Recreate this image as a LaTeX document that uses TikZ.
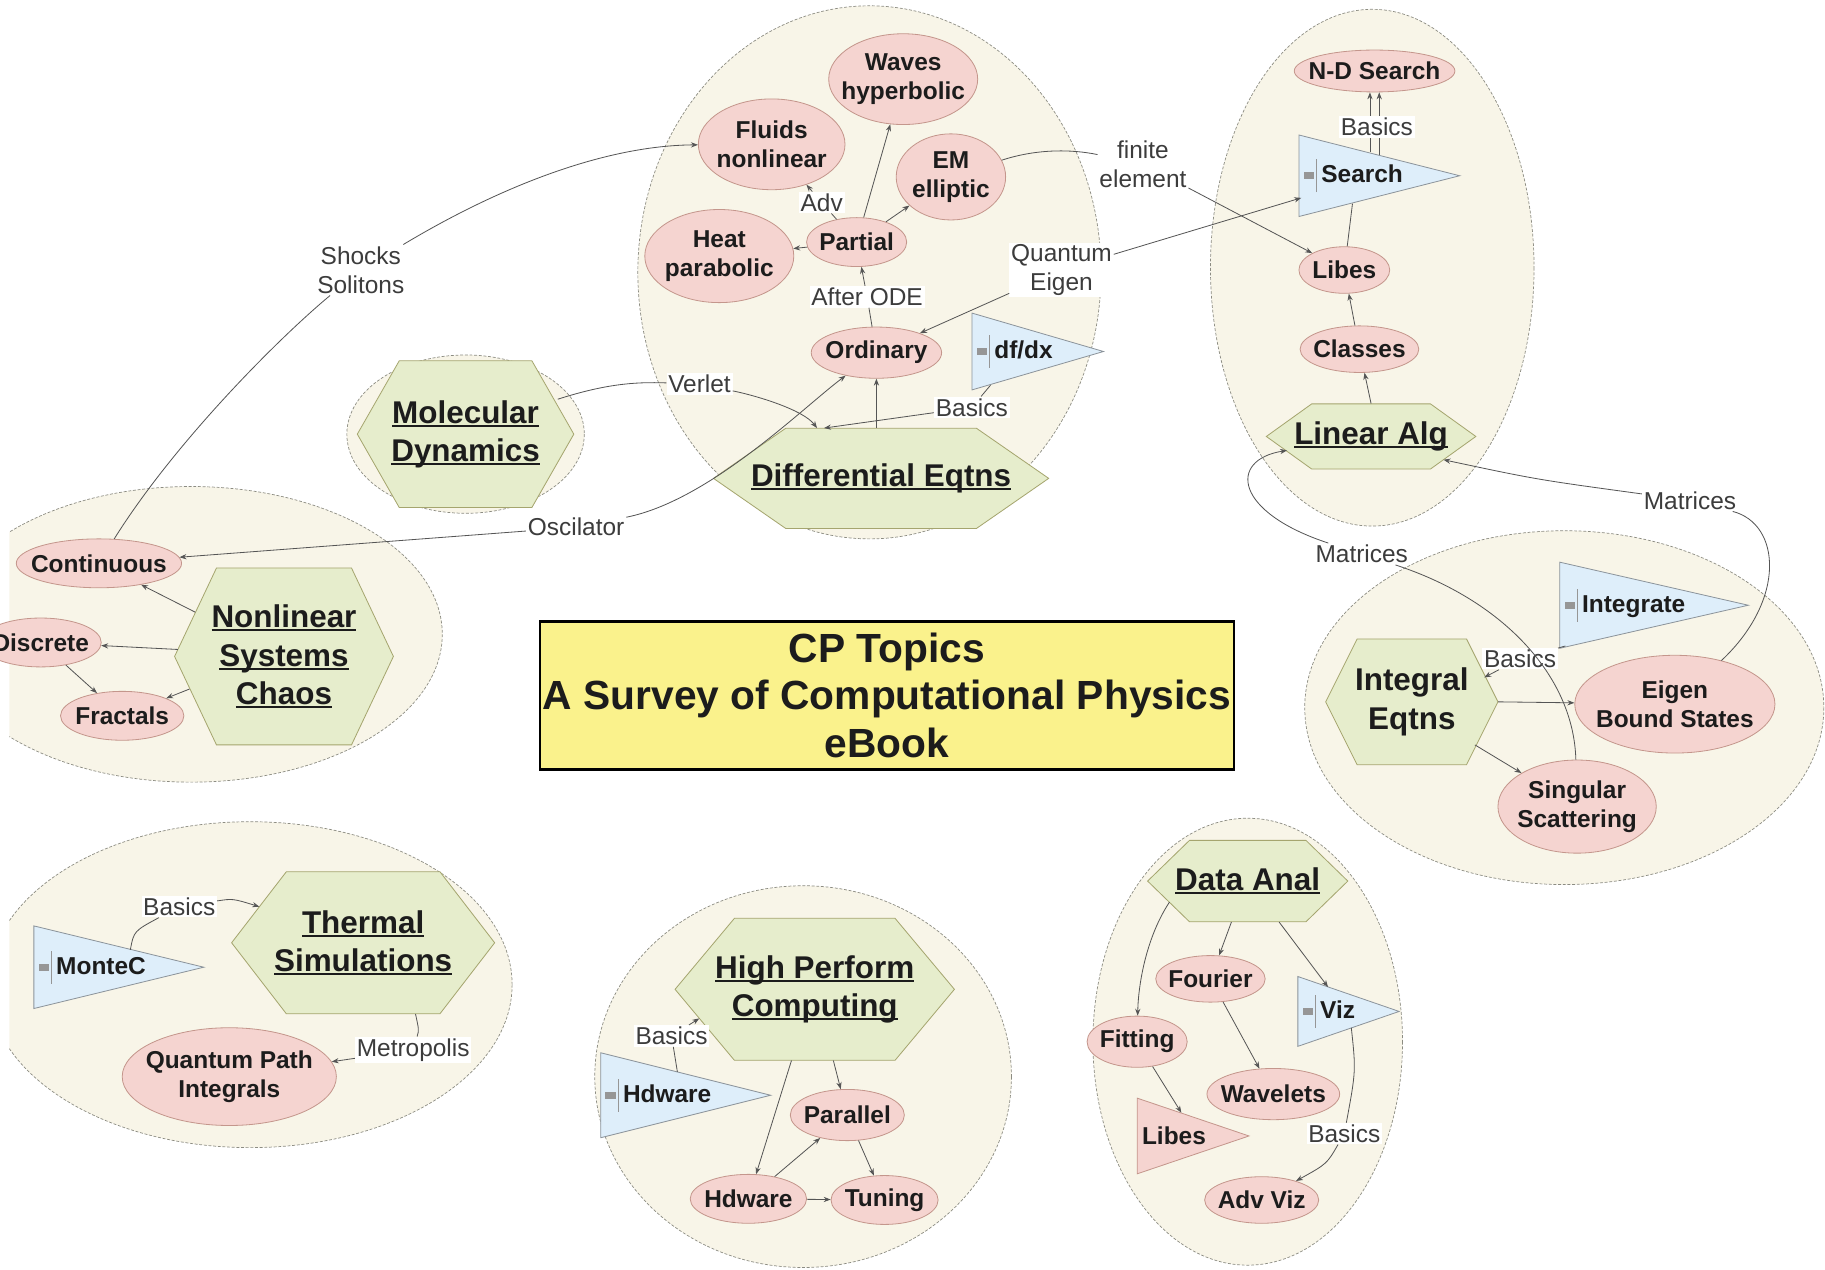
\documentclass[tikz,border=0pt]{standalone}
\usepackage{fontspec}
\setmainfont{Liberation Sans}
\usetikzlibrary{shapes.geometric,arrows.meta,calc}

\definecolor{cream}{RGB}{248,245,232}
\definecolor{clusterline}{RGB}{140,140,130}
\definecolor{pinkfill}{RGB}{245,212,208}
\definecolor{pinkline}{RGB}{196,150,140}
\definecolor{greenfill}{RGB}{230,237,204}
\definecolor{greenline}{RGB}{165,165,110}
\definecolor{bluefill}{RGB}{222,238,250}
\definecolor{blueline}{RGB}{140,148,155}
\definecolor{titlefill}{RGB}{250,242,140}
\definecolor{edgecol}{RGB}{85,85,85}
\definecolor{lbltext}{RGB}{60,60,60}
\definecolor{boldtext}{RGB}{28,28,28}
\definecolor{icongray}{RGB}{150,150,150}

\newcommand\ulx[1]{\sbox0{#1}\rlap{\rule[-3pt]{\wd0}{1.5pt}}\usebox0}
\newcommand\tmicon{{\color{icongray}\rule[3pt]{9pt}{6pt}\hspace{1.5pt}\rule[-8pt]{0.6pt}{28pt}}\hspace{4pt}}

\tikzset{
 cluster/.style={fill=cream, draw=clusterline, line width=0.6pt, dash pattern=on 2.5pt off 1.5pt},
 topic/.style={ellipse, fill=pinkfill, draw=pinkline, line width=0.7pt, inner sep=0pt},
 topictext/.style={inner sep=0pt, align=center, text=boldtext, font=\fontsize{21}{25}\selectfont\bfseries},
 hexshape/.style={fill=greenfill, draw=greenline, line width=0.7pt},
 hextext/.style={inner sep=0pt, align=center, text=boldtext, font=\fontsize{27}{33}\selectfont\bfseries},
 tri/.style={isosceles triangle, isosceles triangle stretches, inner sep=0pt, line width=0.7pt},
 bluetri/.style={fill=bluefill, draw=blueline},
 pinktri/.style={fill=pinkfill, draw=pinkline},
 tritext/.style={inner sep=0pt, text=boldtext, font=\fontsize{21}{25}\selectfont\bfseries},
 lbl/.style={fill=white, inner sep=1.5pt, align=center, text=lbltext, font=\fontsize{21}{25}\selectfont},
 link/.style={draw=edgecol, line width=0.7pt},
 arr/.style={link, -{Stealth[length=6pt,width=4.5pt]}},
 titlebox/.style={rectangle, fill=titlefill, draw=black, line width=2pt, align=center, font=\fontsize{35}{41}\selectfont\bfseries, text=boldtext, inner sep=0pt}
}

% name, x, y, rx, ry, text
\newcommand\topic[6]{%
  \node[topic, minimum width={2*#4}, minimum height={2*#5}] (#1) at (#2,#3) {};
  \node[topictext] (#1-t) at (#1.center) {#6};}
% name, x, y, half width, half height, inset, text
\newcommand\hexa[7]{%
  \path[hexshape] ({#2-#4},#3) -- ({#2-#4+#6},{#3-#5}) -- ({#2+#4-#6},{#3-#5}) -- ({#2+#4},#3) -- ({#2+#4-#6},{#3+#5}) -- ({#2-#4+#6},{#3+#5}) -- cycle;
  \node[inner sep=0pt, minimum width={2*#4}, minimum height={2*#5}] (#1) at (#2,#3) {};
  \node[hextext] (#1-t) at (#1.center) {#7};}
% name, apex x, apex y, horizontal length, base length, colour style, text
\newcommand\tri[7]{%
  \node[tri, #6, minimum height={#4}, minimum width={#5}, anchor=apex] (#1) at (#2,#3) {};
  \node[tritext, anchor=west] (#1-t) at ({#2-#4+3},#3) {#7};}

\begin{document}
\begin{tikzpicture}[x=1pt,y=-1pt]
\useasboundingbox (0,0) rectangle (1568,1091);
\fill[white] (0,0) rectangle (1568,1091);

% cluster backgrounds
\draw[cluster] (747,234) ellipse [x radius=199, y radius=229];
\draw[cluster] (400,373) ellipse [x radius=102, y radius=68];
\draw[cluster] (1179,230) ellipse [x radius=139, y radius=222];
\draw[cluster] (1344,608) ellipse [x radius=223, y radius=152];
\draw[cluster] (690,925) ellipse [x radius=179, y radius=164];
\draw[cluster] (1072,895) ellipse [x radius=133, y radius=192];
\begin{scope}
\clip (8,0) rectangle (1568,1091);
\draw[cluster] (164,545) ellipse [x radius=216, y radius=127];
\draw[cluster] (215,846) ellipse [x radius=225, y radius=140];
\end{scope}

% title
\node[titlebox, minimum width=596pt, minimum height=127pt] (title) at (762,597.5) {CP Topics\\A Survey of Computational Physics\\eBook};

% Differential equations
\topic{waves}{776}{68}{64}{39}{Waves\\hyperbolic}
\topic{fluids}{663}{124}{63}{39}{Fluids\\nonlinear}
\topic{em}{817}{152}{47}{37}{EM\\elliptic}
\topic{heat}{618}{220}{64}{40}{Heat\\parabolic}
\topic{partial}{736}{208}{43}{21}{Partial}
\topic{ordinary}{753}{303}{56}{22}{Ordinary}
\tri{dfdx}{949}{302}{113}{66}{bluetri}{\tmicon df/dx}
\hexa{de}{757}{411}{144}{43}{62}{\ulx{Differential Eqtns}}

% Molecular dynamics
\hexa{md}{400}{373}{93}{63}{36}{\ulx{Molecular}\\\ulx{Dynamics}}

% Nonlinear
\topic{continuous}{85}{484}{71}{21}{Continuous}
\topic{discrete}{35}{552}{52}{21}{Discrete}
\topic{fractals}{105}{615}{53}{21}{Fractals}
\hexa{nl}{244}{564}{94}{76}{36}{\ulx{Nonlinear}\\\ulx{Systems}\\\ulx{Chaos}}

% Linear algebra
\topic{ndsearch}{1181}{61}{69}{18}{N-D Search}
\tri{search}{1255}{151}{138}{70}{bluetri}{\tmicon Search}
\topic{libes}{1155}{232}{39}{20}{Libes}
\topic{classes}{1168}{300}{51}{20}{Classes}
\hexa{la}{1178}{375}{90}{28}{39}{\ulx{Linear Alg}}

% Integral equations
\tri{integrate}{1503}{520}{162}{74}{bluetri}{\tmicon Integrate}
\hexa{ie}{1213}{603}{74}{54}{27}{Integral\\Eqtns}
\topic{eigen}{1439}{605}{86}{42}{Eigen\\Bound States}
\topic{singular}{1355}{693}{68}{40}{Singular\\Scattering}

% Thermal
\tri{montec}{176}{831}{146}{71}{bluetri}{\tmicon MonteC}
\hexa{th}{312}{810}{113}{61}{47}{\ulx{Thermal}\\\ulx{Simulations}}
\topic{qpath}{197}{925}{92}{42}{Quantum Path\\Integrals}

% High performance computing
\hexa{hpc}{700}{850}{120}{61}{51}{\ulx{High Perform}\\\ulx{Computing}}
\tri{hdtri}{663}{941}{146}{73}{bluetri}{\tmicon Hdware}
\topic{parallel}{728}{958}{49}{22}{Parallel}
\topic{hdware}{643}{1030}{50}{21}{Hdware}
\topic{tuning}{760}{1031}{46}{21}{Tuning}

% Data analysis
\hexa{da}{1072}{757}{86}{35}{36}{\ulx{Data Anal}}
\topic{fourier}{1040}{841}{47}{20}{Fourier}
\tri{viz}{1203}{869}{87}{60}{bluetri}{\tmicon Viz}
\topic{fitting}{977}{895}{43}{22}{Fitting}
\topic{wavelets}{1094}{940}{57}{22}{Wavelets}
\tri{libestri}{1074}{976}{96}{65}{pinktri}{Libes}
\topic{advviz}{1084}{1031}{49}{20}{Adv Viz}

% arrows hidden behind a label
\draw[arr] ($(search.apex)+(-78,-20)$) -- ($(ndsearch.south)+(-4,0)$);
\draw[arr] ($(search.apex)+(-70,-18)$) -- ($(ndsearch.south)+(4,0)$);

% labels
\node[lbl] (shocks) at (310,232) {Shocks\\Solitons};
\node[lbl] (oscilator) at (495,453) {Oscilator};
\node[lbl] (verlet) at (601,330) {Verlet};
\node[lbl] (adv) at (706,174) {Adv};
\node[lbl] (afterode) at (745,255) {After ODE};
\node[lbl] (qeigen) at (912,232) {Quantum\\Eigen};
\node[lbl] (basicsde) at (835,350) {Basics};
\node[lbl] (finite) at (982,141) {finite\\element};
\node[lbl] (basicsla) at (1183,109) {Basics};
\node[lbl] (matl) at (1170,476) {Matrices};
\node[lbl] (matr) at (1452,430) {Matrices};
\node[lbl] (basicsie) at (1306,566) {Basics};
\node[lbl] (basicsth) at (154,779) {Basics};
\node[lbl] (metro) at (355,902) {Metropolis};
\node[lbl] (basicshpc) at (577,890) {Basics};
\node[lbl] (basicsda) at (1155,974) {Basics};

% Differential equations connectors
\draw[arr] (partial) -- (heat);
\draw[arr] (partial) -- (waves);
\draw[arr] (partial) -- (em);
\draw[link] (partial) -- (adv);
\draw[arr] (adv) -- (fluids);
\draw[link] (ordinary) -- (afterode);
\draw[arr] (afterode) -- (partial);
\draw[arr] (de.north -| ordinary) -- (ordinary);
\draw[link] ($(dfdx.apex)+(-98,29)$) -- (basicsde);
\draw[arr] (basicsde) -- ($(de.north)+(-49,0)$);
\draw[link] ($(md.east)+(-14,-30)$) .. controls (520,330) and (545,328) .. (verlet);
\draw[arr] (verlet) .. controls (650,340) and (690,352) .. ($(de.north)+(-55,0)$);
\draw[link] (continuous) .. controls (150,380) and (240,290) .. (shocks);
\draw[arr] (shocks) .. controls (430,160) and (520,125) .. (fluids);
\draw[arr] (oscilator) -- (continuous);
\draw[arr] (oscilator) .. controls (610,430) and (690,350) .. (ordinary);
\draw[arr] (qeigen) -- ($(search.apex)+(-137,19)$);
\draw[arr] (qeigen) -- (ordinary);
\draw[link] (em) .. controls (890,128) and (920,128) .. (finite);
\draw[arr] (finite) -- (libes);

% Nonlinear connectors
\draw[arr] ($(nl.west)+(18,-38)$) -- (continuous);
\draw[arr] ($(nl.west)+(3,-6)$) -- (discrete);
\draw[arr] ($(nl.west)+(13,28)$) -- (fractals);
\draw[arr] (discrete) -- (fractals);

% Linear algebra connectors
\draw[link] ($(search.apex)+(-93,24)$) -- (libes);
\draw[arr] (classes) -- (libes);
\draw[arr] (la.north) -- (classes);
\draw[link] (singular) .. controls (1352,580) and (1290,515) .. (matl);
\draw[arr] (matl) .. controls (1060,440) and (1055,395) .. ($(la.west)+(18,12)$);
\draw[link] (eigen) .. controls (1535,515) and (1530,450) .. (matr);
\draw[arr] (matr) .. controls (1320,412) .. ($(la.east)+(-28,20)$);

% Integral equations connectors
\draw[link] ($(integrate.apex)+(-158,35)$) -- (basicsie);
\draw[arr] (basicsie) -- ($(ie.east)+(-12,-21)$);
\draw[arr] (ie.east) -- (eigen);
\draw[arr] ($(ie.east)+(-20,37)$) -- (singular);

% Thermal connectors
\draw[link] ($(montec.apex)+(-64,-15)$) .. controls (115,800) .. (basicsth);
\draw[arr] (basicsth) .. controls (200,772) .. ($(th.west)+(24,-31)$);
\draw[link] ($(th.south)+(45,0)$) .. controls (360,885) .. (metro);
\draw[arr] (metro) -- (qpath);

% HPC connectors
\draw[link] ($(hdtri.apex)+(-81,-20)$) -- (basicshpc);
\draw[arr] (basicshpc) -- ($(hpc.west)+(21,25)$);
\draw[arr] ($(hpc.south)+(-20,0)$) -- (hdware);
\draw[arr] ($(hpc.south)+(16,0)$) -- (parallel);
\draw[arr] (hdware) -- (parallel);
\draw[arr] (parallel) -- (tuning);
\draw[arr] (hdware) -- (tuning);

% Data analysis connectors
\draw[arr] ($(da.west)+(19,18)$) .. controls (985,805) and (978,845) .. (fitting);
\draw[arr] ($(da.south)+(-14,0)$) -- (fourier);
\draw[arr] ($(da.south)+(27,0)$) -- ($(viz.apex)+(-62,-21)$);
\draw[arr] (fourier) -- (wavelets);
\draw[arr] (fitting) -- ($(libestri.apex)+(-59,-20)$);
\draw[link] ($(viz.apex)+(-42,14)$) .. controls (1165,920) .. (basicsda);
\draw[arr] (basicsda) .. controls (1140,1000) .. (advviz);
\end{tikzpicture}
\end{document}
